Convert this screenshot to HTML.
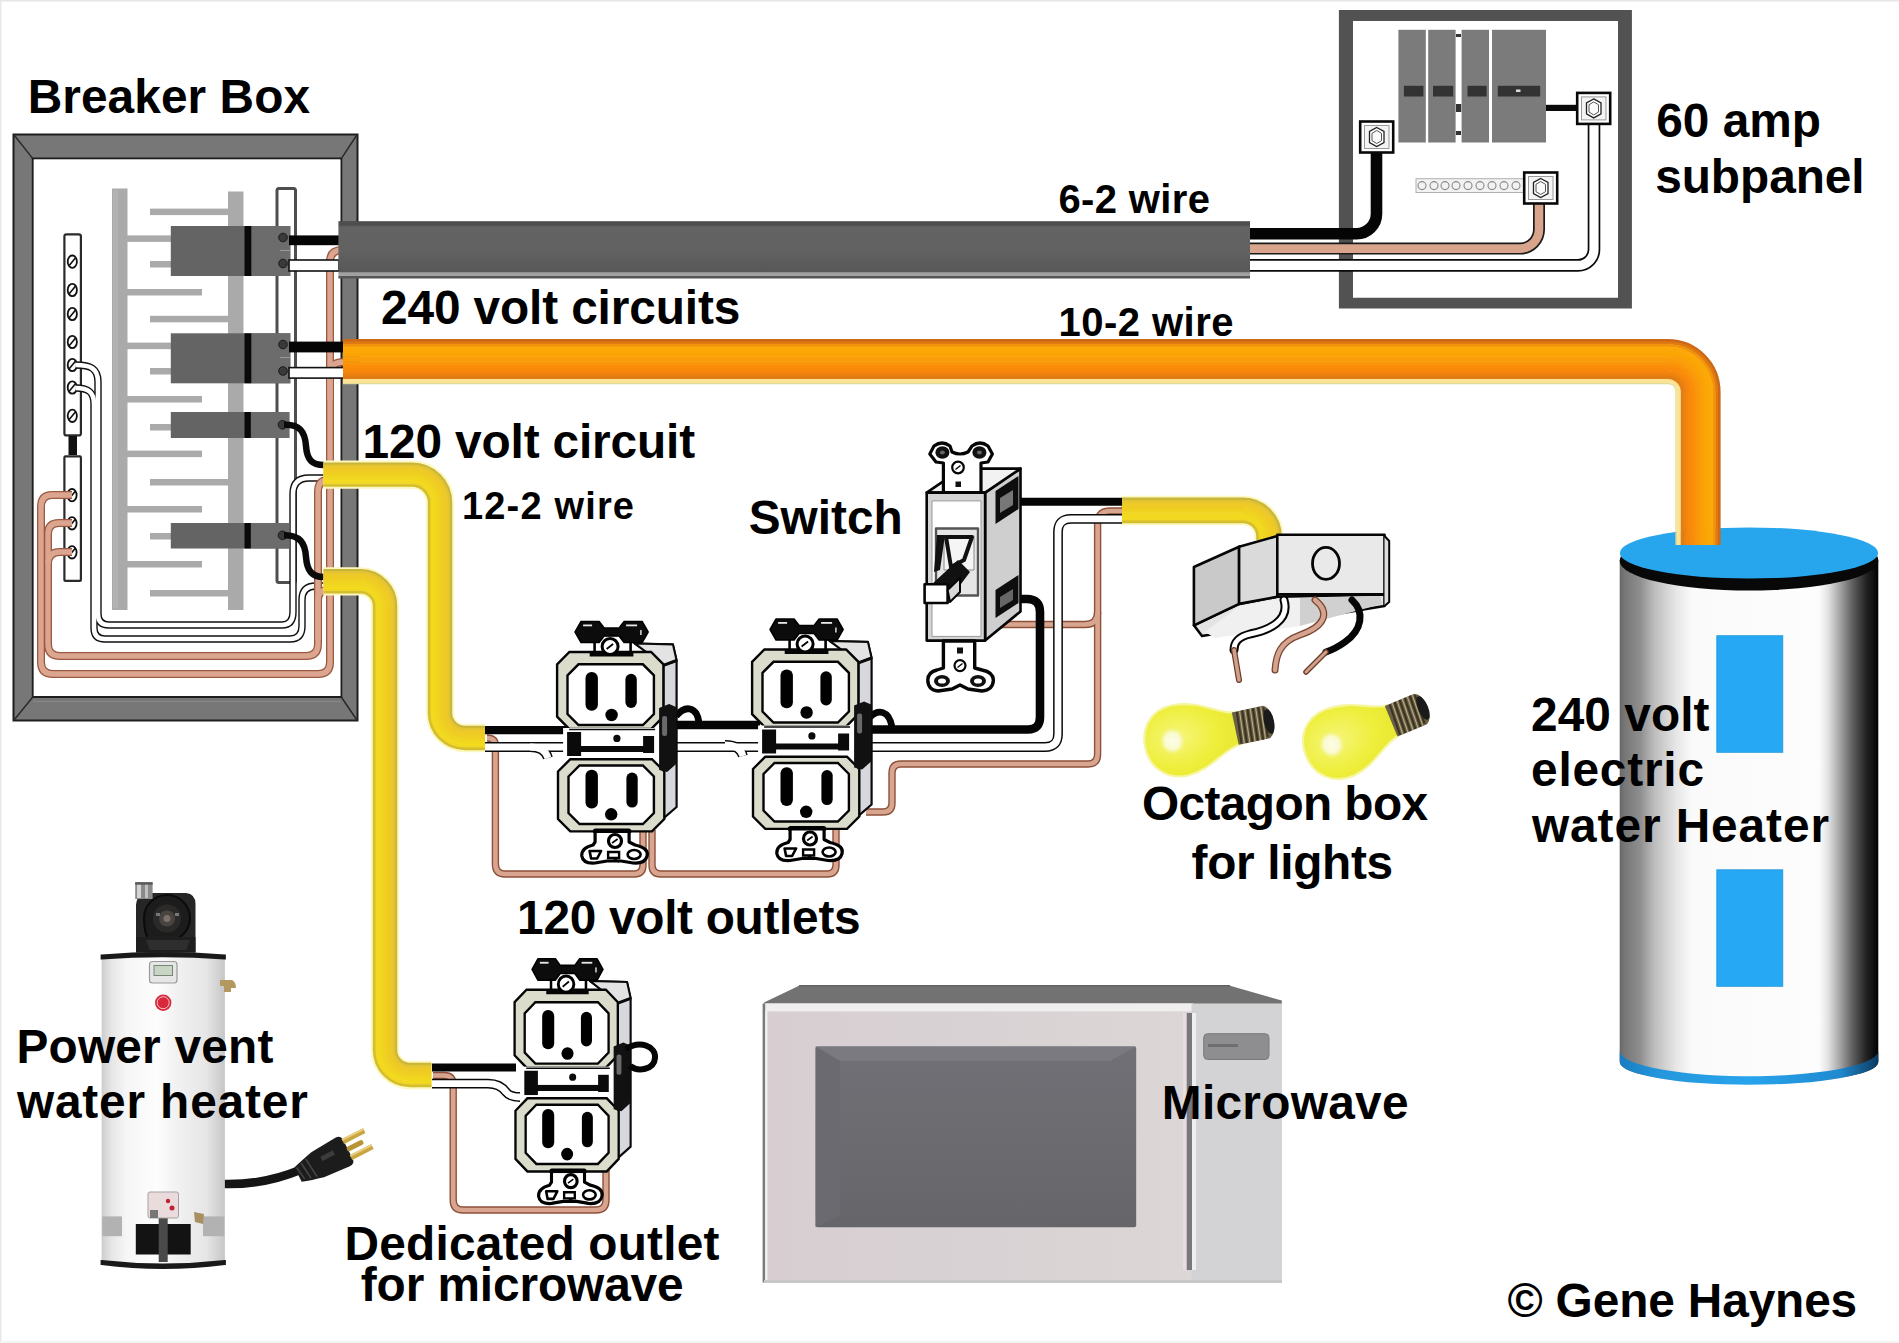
<!DOCTYPE html>
<html><head><meta charset="utf-8"><title>Wiring diagram</title>
<style>
html,body{margin:0;padding:0;background:#fff;overflow:hidden;}
svg{display:block;}
text{font-family:"Liberation Sans",sans-serif;font-weight:bold;fill:#000;}
</style></head><body>
<svg width="1899" height="1343" viewBox="0 0 1899 1343">
<defs>
<linearGradient id="orgH" x1="0" y1="0" x2="0" y2="1">
<stop offset="0" stop-color="#e06400"/><stop offset="0.07" stop-color="#f38a00"/><stop offset="0.3" stop-color="#ffa600"/><stop offset="0.55" stop-color="#fd9c00"/><stop offset="0.85" stop-color="#f98400"/><stop offset="1" stop-color="#f07400"/>
</linearGradient>
<linearGradient id="orgV" x1="0" y1="0" x2="1" y2="0">
<stop offset="0" stop-color="#fff5c0"/><stop offset="0.1" stop-color="#fff0a0"/><stop offset="0.14" stop-color="#f58200"/><stop offset="0.6" stop-color="#fb9600"/><stop offset="0.85" stop-color="#ffa800"/><stop offset="1" stop-color="#e46c00"/>
</linearGradient>
<linearGradient id="grayCab" x1="0" y1="0" x2="0" y2="1">
<stop offset="0" stop-color="#4c4c4c"/><stop offset="0.07" stop-color="#4f4f4f"/><stop offset="0.1" stop-color="#636363"/><stop offset="0.55" stop-color="#616161"/><stop offset="0.75" stop-color="#5b5b5b"/><stop offset="0.88" stop-color="#585858"/><stop offset="0.9" stop-color="#a0a0a0"/><stop offset="0.95" stop-color="#a2a2a2"/><stop offset="0.965" stop-color="#565656"/><stop offset="1" stop-color="#555"/>
</linearGradient>
<linearGradient id="cyl" x1="0" y1="0" x2="1" y2="0">
<stop offset="0" stop-color="#555"/><stop offset="0.08" stop-color="#9a9a9a"/><stop offset="0.25" stop-color="#f4f4f4"/><stop offset="0.35" stop-color="#fff"/><stop offset="0.72" stop-color="#fff"/><stop offset="0.85" stop-color="#cfcfcf"/><stop offset="0.95" stop-color="#444"/><stop offset="1" stop-color="#111"/>
</linearGradient>
<linearGradient id="orgV2" x1="0" y1="0" x2="1" y2="0">
<stop offset="0" stop-color="#f07400"/><stop offset="0.3" stop-color="#f48200"/><stop offset="0.6" stop-color="#fb9600"/><stop offset="0.82" stop-color="#ffa600"/><stop offset="0.95" stop-color="#f08400"/><stop offset="1" stop-color="#dc6400"/>
</linearGradient>
<linearGradient id="cyl2" x1="1619.7" y1="0" x2="1878.3" y2="0" gradientUnits="userSpaceOnUse">
<stop offset="0" stop-color="#686868"/><stop offset="0.02" stop-color="#777"/><stop offset="0.079" stop-color="#8e8e8e"/><stop offset="0.133" stop-color="#bcbcbc"/><stop offset="0.218" stop-color="#e6e6e6"/><stop offset="0.28" stop-color="#fafafa"/><stop offset="0.771" stop-color="#fdfdfd"/><stop offset="0.806" stop-color="#e2e2e2"/><stop offset="0.852" stop-color="#a4a4a4"/><stop offset="0.898" stop-color="#626262"/><stop offset="0.952" stop-color="#242424"/><stop offset="0.987" stop-color="#0a0a0a"/><stop offset="1" stop-color="#000"/>
</linearGradient>
<linearGradient id="blueBand" x1="1619.7" y1="0" x2="1878.3" y2="0" gradientUnits="userSpaceOnUse">
<stop offset="0" stop-color="#1a7cc0"/><stop offset="0.15" stop-color="#2596dc"/><stop offset="0.5" stop-color="#28a4ec"/><stop offset="0.85" stop-color="#1f8ad0"/><stop offset="1" stop-color="#0b3a60"/>
</linearGradient>
<g id="outlet">
<!-- body side & top -->
<path d="M77.8,-8.5 L115.8,-7.6 L119.5,8.5 L119.5,155 L106.3,166.3 L106.3,13.3 L89.2,0 Z" fill="#d6d8de" stroke="#0a0a0a" stroke-width="2.2" stroke-linejoin="round"/>
<path d="M77.8,-8.5 L115.8,-7.6 L119.5,8.5 L106.3,13.3 L89.2,0 Z" fill="#e3e3e3" stroke="#0a0a0a" stroke-width="2"/>
<path d="M106.3,13.3 L119.5,8.5" stroke="#0a0a0a" stroke-width="3"/>
<!-- top ear -->
<path d="M37.5,-17 H73.5 V1 H37.5 Z" fill="#fff" stroke="#000" stroke-width="2.6"/>
<path d="M24,-30.5 H42 L47,-24 H62 L67,-30.5 H85 L91,-20 L85,-9.5 H67 L62,-16 H47 L42,-9.5 H24 L18,-20 Z" fill="#0c0c0c" stroke="#000" stroke-width="1.6" stroke-linejoin="round"/>
<rect x="26" y="-27.5" width="9" height="1.8" fill="#e8e8e8"/>
<rect x="69" y="-27.5" width="11" height="1.8" fill="#e8e8e8"/>
<rect x="83" y="-22" width="1.6" height="5" fill="#d0d0d0"/>
<!-- upper face -->
<path d="M0,12.3 L12.3,0 H94.0 L106.3,12.3 V64.7 L94.0,77 H12.3 L0,64.7 Z" fill="#dcdccd" stroke="#050505" stroke-width="2.4"/>
<path d="M10.4,23.3 L21.4,12.3 H85.8 L96.8,23.3 V62 L85.8,73 H21.4 L10.4,62 Z" fill="#fff" stroke="#050505" stroke-width="2.4"/>
<rect x="32.6" y="-0.5" width="43.7" height="5" fill="#050505"/>
<circle cx="53" cy="-5.5" r="8" fill="#fff" stroke="#000" stroke-width="3"/>
<path d="M49.5,-3 L56,-8" stroke="#000" stroke-width="1.8"/>
<rect x="28.4" y="20" width="12.4" height="38.8" rx="6" fill="#000"/>
<rect x="68.3" y="21.8" width="11.4" height="34.2" rx="5.7" fill="#000"/>
<circle cx="54.5" cy="63" r="6.2" fill="#000"/>
<!-- strap -->
<rect x="6" y="76" width="98" height="32" fill="#fff"/>
<path d="M10,80 H24 V104 H10 Z" fill="#0a0a0a"/>
<rect x="20" y="94" width="70" height="6" fill="#0a0a0a"/>
<path d="M86,84 H97 V101 H86 Z" fill="#0a0a0a"/>
<circle cx="59.8" cy="86.4" r="3.6" fill="#0a0a0a"/>
<path d="M12,77.5 H98" stroke="#0a0a0a" stroke-width="1.5"/>
<!-- lower face -->
<path d="M0.9,119.5 L13.200000000000001,107.2 H94.9 L107.2,119.5 V167.1 L94.9,179.4 H13.200000000000001 L0.9,167.1 Z" fill="#dcdccd" stroke="#050505" stroke-width="2.4"/>
<path d="M11.4,124.5 L22.4,113.5 H85.8 L96.8,124.5 V161 L85.8,172 H22.4 L11.4,161 Z" fill="#fff" stroke="#050505" stroke-width="2.4"/>
<rect x="28.4" y="117.7" width="12.4" height="38.9" rx="6" fill="#000"/>
<rect x="69.3" y="120.5" width="11.3" height="35.1" rx="5.6" fill="#000"/>
<circle cx="54.1" cy="162.3" r="6.2" fill="#000"/>
<!-- side terminals -->
<path d="M102,56 L112,52 L119,55 V112 L110,120 L102,118 Z" fill="#111"/>
<rect x="105" y="64" width="5" height="20" rx="2" fill="#6a6a6a"/>
<!-- bottom ear -->
<path d="M38,178 H72 V190 L78,193 Q92,196 90,204 Q88,212 76,211 L64,209 H50 L38,211 Q26,212 24.7,204 Q24,196 36,193 L38,190 Z" fill="#fff" stroke="#000" stroke-width="3.2" stroke-linejoin="round"/>
<rect x="36" y="177.5" width="38" height="3.5" fill="#000"/>
<circle cx="57.9" cy="189" r="6.5" fill="#fff" stroke="#000" stroke-width="3.2"/>
<path d="M55,191 L60.5,187" stroke="#000" stroke-width="1.6"/>
<path d="M32.5,199 H44 L40,206.5 H34 Z" fill="none" stroke="#000" stroke-width="2.6" stroke-linejoin="round"/>
<ellipse cx="77" cy="202.5" rx="6.5" ry="4.5" fill="none" stroke="#000" stroke-width="2.6"/>
<path d="M51,200 H62 V206 H51 Z" fill="none" stroke="#000" stroke-width="2.4"/>
<path d="M56,206 L62,210" stroke="#000" stroke-width="2"/>
</g>
<g id="bulb">
<path d="M60,-16 C42,-18 30,-35 0,-36 C-22,-36 -35,-20 -35,0 C-35,22 -19,36.5 2,36 C26,35 40,18 60,16 Z" fill="url(#bulbG)" stroke="#f6f6a0" stroke-width="2.2"/>
<ellipse cx="-7" cy="-1" rx="13" ry="14" fill="url(#bulbHL)"/>
<path d="M57,-16.5 H89 Q96,-13 96,0 Q96,13 89,16.5 H57 Z" fill="#6a6046"/>
<g stroke="#3a3222" stroke-width="2"><path d="M62,-16 L60,16 M67.5,-16.5 L65.5,16.5 M73,-16.5 L71,16.5 M78.5,-16.5 L76.5,16.5 M84,-16.5 L82,16.5 M89,-15 L87,15"/></g>
<g stroke="#b8ac84" stroke-width="1.1"><path d="M64.8,-16 L62.8,16 M70.3,-16.5 L68.3,16.5 M75.8,-16.5 L73.8,16.5 M81.3,-16.5 L79.3,16.5 M86.5,-16 L84.5,16"/></g>
<ellipse cx="91.5" cy="0" rx="5" ry="12.5" fill="#1a1a1a"/>
</g>
<radialGradient id="bulbG" cx="0.35" cy="0.45" r="0.7">
<stop offset="0" stop-color="#f6f67a"/><stop offset="0.6" stop-color="#eeee3c"/><stop offset="1" stop-color="#e8e830"/>
</radialGradient>
<linearGradient id="mwTop" x1="0" y1="0" x2="0" y2="1">
<stop offset="0" stop-color="#5c5c5c"/><stop offset="1" stop-color="#7a7a7a"/>
</linearGradient>
<linearGradient id="mwWin" x1="0" y1="0" x2="0" y2="1">
<stop offset="0" stop-color="#707076"/><stop offset="1" stop-color="#66666a"/>
</linearGradient>
<linearGradient id="pvBody" x1="101.6" y1="0" x2="224.9" y2="0" gradientUnits="userSpaceOnUse">
<stop offset="0" stop-color="#cdcdcd"/><stop offset="0.08" stop-color="#e6e6e6"/><stop offset="0.2" stop-color="#f6f6f6"/><stop offset="0.45" stop-color="#fdfdfd"/><stop offset="0.6" stop-color="#f2f2f2"/><stop offset="0.85" stop-color="#e6e6e6"/><stop offset="1" stop-color="#c6c6c6"/>
</linearGradient>
<linearGradient id="mwDoor" x1="764" y1="0" x2="1192" y2="0" gradientUnits="userSpaceOnUse">
<stop offset="0" stop-color="#d8ced2"/><stop offset="0.5" stop-color="#d8d2d4"/><stop offset="1" stop-color="#dcd6d6"/>
</linearGradient>
<radialGradient id="bulbHL" cx="0.5" cy="0.5" r="0.5">
<stop offset="0" stop-color="#fdfde8"/><stop offset="0.6" stop-color="#fafad0"/><stop offset="1" stop-color="#f4f490" stop-opacity="0"/>
</radialGradient>
</defs>


<rect x="0" y="0" width="1899" height="1.5" fill="#e6e6e6"/>
<rect x="0" y="0" width="1.5" height="1343" fill="#e8e8e8"/>
<rect x="0" y="1341" width="1899" height="2" fill="#f3f3f3"/>
<!-- ============ BREAKER BOX ============ -->
<g id="breakerbox">
<!-- frame -->
<path d="M13.5,134.5 H357.5 V720.5 H13.5 Z M32.8,158.6 V697 H341.3 V158.6 Z" fill="#777777" fill-rule="evenodd" stroke="#1e1e1e" stroke-width="2"/>
<path d="M14.5,135.5 L32.8,158.6 M356.5,135.5 L341.3,158.6 M14.5,719.5 L32.8,697 M356.5,719.5 L341.3,697" stroke="#2a2a2a" stroke-width="1.5"/>
<path d="M33,701.5 H341" stroke="#888" stroke-width="1"/>
<rect x="33.8" y="159.6" width="306.5" height="536.4" fill="#fff"/>
<!-- bus bars -->
<g fill="#aaaaaa">
<rect x="112" y="188.5" width="15.5" height="421.5"/>
<rect x="228" y="191.5" width="15.5" height="418.5"/>
<rect x="150" y="208.6" width="79" height="6.5"/>
<rect x="127" y="235.4" width="75" height="6.5"/>
<rect x="150" y="261.0" width="79" height="6.5"/>
<rect x="127" y="289.0" width="75" height="6.5"/>
<rect x="150" y="315.8" width="79" height="6.5"/>
<rect x="127" y="342.6" width="75" height="6.5"/>
<rect x="150" y="368.0" width="79" height="6.5"/>
<rect x="127" y="396.0" width="75" height="6.5"/>
<rect x="150" y="424.0" width="79" height="6.5"/>
<rect x="127" y="450.6" width="75" height="6.5"/>
<rect x="150" y="479.0" width="79" height="6.5"/>
<rect x="127" y="506.0" width="75" height="6.5"/>
<rect x="150" y="533.0" width="79" height="6.5"/>
<rect x="127" y="561.0" width="75" height="6.5"/>
<rect x="150" y="590.0" width="79" height="6.5"/>
</g>
<rect x="113" y="190" width="5" height="418" fill="#b2b2b2"/>

<!-- right narrow box -->
<rect x="277" y="188.5" width="18.5" height="394" rx="2" fill="#fff" stroke="#4e4e4e" stroke-width="3"/>
<!-- neutral bars -->
<rect x="64.4" y="234.4" width="16.5" height="201" rx="2" fill="#fff" stroke="#2a2a2a" stroke-width="2.2"/>
<rect x="68.5" y="436" width="8.5" height="19" fill="#111"/>
<rect x="64.4" y="456.4" width="16.5" height="124.5" rx="1" fill="#fff" stroke="#2a2a2a" stroke-width="2.2"/>
<g fill="#fff" stroke="#111" stroke-width="1.8">
<ellipse cx="72.3" cy="261.7" rx="4.6" ry="6.2"/>
<ellipse cx="72.3" cy="290" rx="4.6" ry="6.2"/>
<ellipse cx="72.3" cy="314" rx="4.6" ry="6.2"/>
<ellipse cx="72.3" cy="342" rx="4.6" ry="6.2"/>
<ellipse cx="72.3" cy="365" rx="4.6" ry="6.2"/>
<ellipse cx="72.3" cy="387.5" rx="4.6" ry="6.2"/>
<ellipse cx="72.3" cy="415.8" rx="4.6" ry="6.2"/>
<ellipse cx="72" cy="495.2" rx="4.6" ry="6.2"/>
<ellipse cx="72" cy="523.3" rx="4.6" ry="6.2"/>
<ellipse cx="72" cy="552.3" rx="4.6" ry="6.2"/>
</g>
<g stroke="#111" stroke-width="1.6">
<path d="M69,265.7 L75.6,257.7 M69,294 L75.6,286 M69,318 L75.6,310 M69,346 L75.6,338 M69,369 L75.6,361 M69,391.5 L75.6,383.5 M69,419.8 L75.6,411.8 M68.7,499.2 L75.3,491.2 M68.7,527.3 L75.3,519.3 M68.7,556.3 L75.3,548.3"/>
</g>
<!-- white neutral wires in box -->
<g fill="none" stroke-linecap="butt">
<g stroke="#111" stroke-width="7.4">
<path d="M76,365 C90,365 98,368 98,382 V614 Q98,625 109,625 H282 Q293,625 293,612 V494 Q293,478 309,478 H326"/>
<path d="M76,388 C88,388 94,392 94,404 V628 Q94,639 105,639 H290 Q302,639 302,626 V600 Q302,586 316,586 H326"/>
</g>
<g stroke="#fff" stroke-width="4.6">
<path d="M76,365 C90,365 98,368 98,382 V614 Q98,625 109,625 H282 Q293,625 293,612 V494 Q293,478 309,478 H326"/>
<path d="M76,388 C88,388 94,392 94,404 V628 Q94,639 105,639 H290 Q302,639 302,626 V600 Q302,586 316,586 H326"/>
</g>
</g>
<!-- copper wires in box -->
<g fill="none">
<g stroke="#9a5a42" stroke-width="8">
<path d="M72,495 H52 Q41,495 41,507 V662 Q41,674 53,674 H318 Q330,674 330,662 V262 Q330,250 342,250"/>
<path d="M330,400 V374 Q330,362 344,362"/>
<path d="M72,523 H59 Q48,523 48,534 V644 Q48,656 60,656 H306 Q318,656 318,644 V492 Q318,480 328,480"/>
<path d="M72,552 H60 Q48,552 48,564"/>
<path d="M328,590 Q318,590 318,600 V640"/>
</g>
<g stroke="#dba590" stroke-width="5.4">
<path d="M72,495 H52 Q41,495 41,507 V662 Q41,674 53,674 H318 Q330,674 330,662 V262 Q330,250 342,250"/>
<path d="M330,400 V374 Q330,362 344,362"/>
<path d="M72,523 H59 Q48,523 48,534 V644 Q48,656 60,656 H306 Q318,656 318,644 V492 Q318,480 328,480"/>
<path d="M72,552 H60 Q48,552 48,564"/>
<path d="M328,590 Q318,590 318,600 V640"/>
</g>
</g>
<!-- breakers -->
<g fill="#646464">
<rect x="170.8" y="226" width="119.5" height="50"/>
<rect x="170.8" y="333.3" width="119.5" height="50"/>
<rect x="170.8" y="412" width="118.6" height="26"/>
<rect x="170.8" y="523" width="118.6" height="25.5"/>
</g>
<g fill="#6c6c6c">
<rect x="251.3" y="226" width="39" height="50"/>
<rect x="251.3" y="333.3" width="39" height="50"/>
<rect x="251.3" y="412" width="38" height="26"/>
<rect x="251.3" y="523" width="38" height="25.5"/>
</g>
<g fill="#0a0a0a">
<rect x="244.5" y="226" width="6.8" height="50"/>
<rect x="244.5" y="333.3" width="6.8" height="50"/>
<rect x="244.5" y="412" width="6.3" height="26"/>
<rect x="244.5" y="523" width="6.3" height="25.5"/>
</g>
<g fill="#3a3a3a" stroke="#1a1a1a" stroke-width="1">
<circle cx="283" cy="237.5" r="4.3"/><circle cx="283" cy="263.5" r="4.3"/>
<circle cx="283" cy="344.5" r="4.3"/><circle cx="283" cy="371" r="4.3"/>
<circle cx="282.5" cy="424.8" r="4.3"/><circle cx="282.5" cy="535.3" r="4.3"/>
</g>
<g stroke="#999" stroke-width="1"><path d="M280,250.5 H290 M280,357.5 H290"/></g>
<!-- 240v wires -->
<rect x="289" y="235.4" width="50" height="9.8" fill="#050505"/>
<rect x="289" y="341.6" width="55" height="10.8" fill="#050505"/>
<rect x="289" y="260" width="50" height="11" fill="#fff" stroke="#111" stroke-width="1.6"/>
<rect x="289" y="367.6" width="55" height="10.5" fill="#fff" stroke="#111" stroke-width="1.6"/>
<!-- 120v black wires -->
<g fill="none" stroke="#0a0a0a" stroke-width="6.5">
<path d="M284,424.8 C300,424 305,432 306,446 C307,460 312,465 324,465"/>
<path d="M284,535.3 C300,535 305,543 306,557 C307,571 312,577 324,577"/>
</g>
</g>



<!-- ============ ELECTRIC WATER HEATER ============ -->
<g id="eheater">
<path d="M1619.7,560 A129.2,30 0 0 1 1878.3,560 V1062 A129.2,22.7 0 0 1 1619.7,1062 Z" fill="url(#cyl2)"/>
<path d="M1619.7,1049.3 A129.2,25.5 0 0 0 1878.3,1052 V1062 A129.2,22.7 0 0 1 1619.7,1062 Z" fill="url(#blueBand)"/>
<ellipse cx="1749" cy="561" rx="129.3" ry="29.5" fill="#080808"/>
<ellipse cx="1749" cy="553" rx="129.2" ry="25.6" fill="#27a6ee"/>
<rect x="1716.8" y="635.7" width="66" height="116.6" fill="#26a8f4" stroke="#2196d8" stroke-width="0.8"/>
<rect x="1716.8" y="869.8" width="66" height="116.5" fill="#26a8f4" stroke="#2196d8" stroke-width="0.8"/>
</g>

<!-- ============ CABLES ============ -->
<g id="cables">
<!-- gray 6-2 cable -->
<rect x="338.4" y="221.2" width="911.6" height="57.3" fill="url(#grayCab)"/>
<!-- orange 10-2 cable -->
<path d="M343,383.6 H1668 Q1676,383.6 1676,392 V545" fill="none" stroke="#dcd898" stroke-width="1.2"/>
<path d="M343,380.9 H1668 Q1678.6,380.9 1678.6,392 V545" fill="none" stroke="#fde396" stroke-width="4.6"/>
<g fill="none">
<path d="M343,340.62 H1667.7 A51.38,51.38 0 0 1 1719.08,392 V545" stroke="#cd6816" stroke-width="3.05"/>
<path d="M343,343.07 H1667.7 A48.92,48.92 0 0 1 1716.62,392 V545" stroke="#df7912" stroke-width="3.05"/>
<path d="M343,345.52 H1667.7 A46.48,46.48 0 0 1 1714.17,392 V545" stroke="#f1930c" stroke-width="3.05"/>
<path d="M343,347.98 H1667.7 A44.02,44.02 0 0 1 1711.73,392 V545" stroke="#fca808" stroke-width="3.05"/>
<path d="M343,350.43 H1667.7 A41.58,41.58 0 0 1 1709.28,392 V545" stroke="#fba706" stroke-width="3.05"/>
<path d="M343,352.88 H1667.7 A39.12,39.12 0 0 1 1706.83,392 V545" stroke="#fba604" stroke-width="3.05"/>
<path d="M343,355.32 H1667.7 A36.67,36.67 0 0 1 1704.38,392 V545" stroke="#fba305" stroke-width="3.05"/>
<path d="M343,357.77 H1667.7 A34.23,34.23 0 0 1 1701.92,392 V545" stroke="#fa9f06" stroke-width="3.05"/>
<path d="M343,360.23 H1667.7 A31.77,31.77 0 0 1 1699.48,392 V545" stroke="#fa9b08" stroke-width="3.05"/>
<path d="M343,362.68 H1667.7 A29.32,29.32 0 0 1 1697.03,392 V545" stroke="#fa9609" stroke-width="3.05"/>
<path d="M343,365.12 H1667.7 A26.88,26.88 0 0 1 1694.58,392 V545" stroke="#fa9109" stroke-width="3.05"/>
<path d="M343,367.57 H1667.7 A24.43,24.43 0 0 1 1692.12,392 V545" stroke="#fa8c0a" stroke-width="3.05"/>
<path d="M343,370.02 H1667.7 A21.97,21.97 0 0 1 1689.67,392 V545" stroke="#f8890b" stroke-width="3.05"/>
<path d="M343,372.48 H1667.7 A19.52,19.52 0 0 1 1687.23,392 V545" stroke="#f5850c" stroke-width="3.05"/>
<path d="M343,374.93 H1667.7 A17.07,17.07 0 0 1 1684.78,392 V545" stroke="#eb810f" stroke-width="3.05"/>
<path d="M343,377.38 H1667.7 A14.62,14.62 0 0 1 1682.33,392 V545" stroke="#e17d13" stroke-width="3.05"/>
</g>
<!-- yellow cables -->
<g fill="none">
<path d="M323.4,474.60 H412 A28.00,28.00 0 0 1 440.00,502.6 V713 A25.00,25.00 0 0 0 465,738.00 H485" stroke="#fdf8c0" stroke-width="28.3"/>
<path d="M323.4,463.69 H412 A38.91,38.91 0 0 1 450.91,502.6 V713 A14.09,14.09 0 0 0 465,727.09 H485" stroke="#c9b539" stroke-width="2.58"/>
<path d="M323.4,465.68 H412 A36.92,36.92 0 0 1 448.93,502.6 V713 A16.07,16.07 0 0 0 465,729.08 H485" stroke="#e0c334" stroke-width="2.58"/>
<path d="M323.4,467.66 H412 A34.94,34.94 0 0 1 446.94,502.6 V713 A18.06,18.06 0 0 0 465,731.06 H485" stroke="#ecc82a" stroke-width="2.58"/>
<path d="M323.4,469.64 H412 A32.96,32.96 0 0 1 444.96,502.6 V713 A20.04,20.04 0 0 0 465,733.04 H485" stroke="#eeca26" stroke-width="2.58"/>
<path d="M323.4,471.62 H412 A30.98,30.98 0 0 1 442.98,502.6 V713 A22.02,22.02 0 0 0 465,735.02 H485" stroke="#f0cc23" stroke-width="2.58"/>
<path d="M323.4,473.61 H412 A28.99,28.99 0 0 1 440.99,502.6 V713 A24.01,24.01 0 0 0 465,737.01 H485" stroke="#f0ce21" stroke-width="2.58"/>
<path d="M323.4,475.59 H412 A27.01,27.01 0 0 1 439.01,502.6 V713 A25.99,25.99 0 0 0 465,738.99 H485" stroke="#f0d221" stroke-width="2.58"/>
<path d="M323.4,477.58 H412 A25.02,25.02 0 0 1 437.02,502.6 V713 A27.98,27.98 0 0 0 465,740.98 H485" stroke="#f0d520" stroke-width="2.58"/>
<path d="M323.4,479.56 H412 A23.04,23.04 0 0 1 435.04,502.6 V713 A29.96,29.96 0 0 0 465,742.96 H485" stroke="#f2d71e" stroke-width="2.58"/>
<path d="M323.4,481.54 H412 A21.06,21.06 0 0 1 433.06,502.6 V713 A31.94,31.94 0 0 0 465,744.94 H485" stroke="#f4da1c" stroke-width="2.58"/>
<path d="M323.4,483.53 H412 A19.08,19.08 0 0 1 431.07,502.6 V713 A33.92,33.92 0 0 0 465,746.92 H485" stroke="#f0d625" stroke-width="2.58"/>
<path d="M323.4,485.51 H412 A17.09,17.09 0 0 1 429.09,502.6 V713 A35.91,35.91 0 0 0 465,748.91 H485" stroke="#d4be2e" stroke-width="2.58"/>
<path d="M323.4,581.30 H361 A24.50,24.50 0 0 1 385.00,605.8 V1050 A25.00,25.00 0 0 0 410,1075.00 H431.5" stroke="#fdf8c0" stroke-width="28.3"/>
<path d="M323.4,570.39 H361 A35.41,35.41 0 0 1 395.91,605.8 V1050 A14.09,14.09 0 0 0 410,1064.09 H431.5" stroke="#c9b539" stroke-width="2.58"/>
<path d="M323.4,572.38 H361 A33.42,33.42 0 0 1 393.93,605.8 V1050 A16.07,16.07 0 0 0 410,1066.08 H431.5" stroke="#e0c334" stroke-width="2.58"/>
<path d="M323.4,574.36 H361 A31.44,31.44 0 0 1 391.94,605.8 V1050 A18.06,18.06 0 0 0 410,1068.06 H431.5" stroke="#ecc82a" stroke-width="2.58"/>
<path d="M323.4,576.34 H361 A29.46,29.46 0 0 1 389.96,605.8 V1050 A20.04,20.04 0 0 0 410,1070.04 H431.5" stroke="#eeca26" stroke-width="2.58"/>
<path d="M323.4,578.32 H361 A27.48,27.48 0 0 1 387.98,605.8 V1050 A22.02,22.02 0 0 0 410,1072.03 H431.5" stroke="#f0cc23" stroke-width="2.58"/>
<path d="M323.4,580.31 H361 A25.49,25.49 0 0 1 385.99,605.8 V1050 A24.01,24.01 0 0 0 410,1074.01 H431.5" stroke="#f0ce21" stroke-width="2.58"/>
<path d="M323.4,582.29 H361 A23.51,23.51 0 0 1 384.01,605.8 V1050 A25.99,25.99 0 0 0 410,1075.99 H431.5" stroke="#f0d221" stroke-width="2.58"/>
<path d="M323.4,584.27 H361 A21.52,21.52 0 0 1 382.02,605.8 V1050 A27.98,27.98 0 0 0 410,1077.97 H431.5" stroke="#f0d520" stroke-width="2.58"/>
<path d="M323.4,586.26 H361 A19.54,19.54 0 0 1 380.04,605.8 V1050 A29.96,29.96 0 0 0 410,1079.96 H431.5" stroke="#f2d71e" stroke-width="2.58"/>
<path d="M323.4,588.24 H361 A17.56,17.56 0 0 1 378.06,605.8 V1050 A31.94,31.94 0 0 0 410,1081.94 H431.5" stroke="#f4da1c" stroke-width="2.58"/>
<path d="M323.4,590.22 H361 A15.58,15.58 0 0 1 376.07,605.8 V1050 A33.92,33.92 0 0 0 410,1083.92 H431.5" stroke="#f0d625" stroke-width="2.58"/>
<path d="M323.4,592.21 H361 A13.59,13.59 0 0 1 374.09,605.8 V1050 A35.91,35.91 0 0 0 410,1085.91 H431.5" stroke="#d4be2e" stroke-width="2.58"/>
<path d="M1121.5,510.40 H1243 A26.00,26.00 0 0 1 1269.00,536.4 V540" stroke="#fdf8c0" stroke-width="29.5"/>
<path d="M1121.5,498.94 H1243 A37.46,37.46 0 0 1 1280.46,536.4 V540" stroke="#c9b539" stroke-width="2.68"/>
<path d="M1121.5,501.02 H1243 A35.38,35.38 0 0 1 1278.38,536.4 V540" stroke="#e0c334" stroke-width="2.68"/>
<path d="M1121.5,503.11 H1243 A33.29,33.29 0 0 1 1276.29,536.4 V540" stroke="#ecc82a" stroke-width="2.68"/>
<path d="M1121.5,505.19 H1243 A31.21,31.21 0 0 1 1274.21,536.4 V540" stroke="#eeca26" stroke-width="2.68"/>
<path d="M1121.5,507.27 H1243 A29.12,29.12 0 0 1 1272.12,536.4 V540" stroke="#f0cc23" stroke-width="2.68"/>
<path d="M1121.5,509.36 H1243 A27.04,27.04 0 0 1 1270.04,536.4 V540" stroke="#f0ce21" stroke-width="2.68"/>
<path d="M1121.5,511.44 H1243 A24.96,24.96 0 0 1 1267.96,536.4 V540" stroke="#f0d221" stroke-width="2.68"/>
<path d="M1121.5,513.52 H1243 A22.88,22.88 0 0 1 1265.88,536.4 V540" stroke="#f0d520" stroke-width="2.68"/>
<path d="M1121.5,515.61 H1243 A20.79,20.79 0 0 1 1263.79,536.4 V540" stroke="#f2d71e" stroke-width="2.68"/>
<path d="M1121.5,517.69 H1243 A18.71,18.71 0 0 1 1261.71,536.4 V540" stroke="#f4da1c" stroke-width="2.68"/>
<path d="M1121.5,519.77 H1243 A16.62,16.62 0 0 1 1259.62,536.4 V540" stroke="#f0d625" stroke-width="2.68"/>
<path d="M1121.5,521.86 H1243 A14.54,14.54 0 0 1 1257.54,536.4 V540" stroke="#d4be2e" stroke-width="2.68"/>
</g>
</g>


<!-- ============ SUBPANEL ============ -->
<g id="subpanel">
<path d="M1338.9,10 H1631.9 V308.5 H1338.9 Z M1353,21 V297.8 H1618 V21 Z" fill="#525252" fill-rule="evenodd"/>
<!-- breakers -->
<g fill="#7b7b7b">
<rect x="1398.4" y="29.8" width="27.4" height="112.7"/>
<rect x="1428.2" y="29.8" width="27.4" height="112.7"/>
<rect x="1461.6" y="29.8" width="27.4" height="112.7"/>
<rect x="1492" y="29.8" width="54" height="112.7"/>
</g>
<g fill="#333">
<rect x="1403.9" y="85.8" width="19.5" height="10.7"/>
<rect x="1433" y="85.8" width="20.2" height="10.7"/>
<rect x="1467.5" y="85.8" width="19.1" height="10.7"/>
<rect x="1497.8" y="85.8" width="42.4" height="10.7"/>
<rect x="1456" y="34" width="5" height="3"/>
<rect x="1456" y="104" width="5.2" height="8"/>
<rect x="1456" y="131" width="5" height="4"/>
</g>
<rect x="1516" y="89.5" width="4.5" height="2.5" fill="#ddd"/>
<!-- wires -->
<rect x="1546" y="104.8" width="31" height="6.2" fill="#0a0a0a"/>
<path d="M1250,233.7 H1356.5 A20,20 0 0 0 1376.5,213.7 V150" fill="none" stroke="#050505" stroke-width="11.6"/>
<path d="M1250,248.6 H1520 A19,19 0 0 0 1539,229.6 V200" fill="none" stroke="#1a1a1a" stroke-width="12"/>
<path d="M1250,248.6 H1520 A19,19 0 0 0 1539,229.6 V200" fill="none" stroke="#d9a48c" stroke-width="8.6"/>
<path d="M1250,265.4 H1578 A16,16 0 0 0 1594,249.4 V120" fill="none" stroke="#0a0a0a" stroke-width="12.6"/>
<path d="M1250,265.4 H1578 A16,16 0 0 0 1594,249.4 V120" fill="none" stroke="#fff" stroke-width="9.2"/>
<!-- neutral bar -->
<rect x="1416" y="178.7" width="107.5" height="13.8" fill="#f2f2f2" stroke="#b0b0b0" stroke-width="1"/>
<g fill="none" stroke="#8a8a8a" stroke-width="1.1">
<circle cx="1422" cy="185.6" r="4"/><circle cx="1434" cy="185.6" r="4"/><circle cx="1445" cy="185.6" r="4"/><circle cx="1456" cy="185.6" r="4"/><circle cx="1468" cy="185.6" r="4"/><circle cx="1480" cy="185.6" r="4"/><circle cx="1492" cy="185.6" r="4"/><circle cx="1504" cy="185.6" r="4"/><circle cx="1516" cy="185.6" r="4"/>
</g>
<!-- lugs -->
<g id="lug1">
<rect x="1360.2" y="121.5" width="33" height="31" fill="#fff" stroke="#080808" stroke-width="2.6"/>
<rect x="1364.5" y="125.5" width="24.5" height="23" fill="#f4f4f4" stroke="#9a9a9a" stroke-width="1"/>
<path d="M1376.7,127.5 L1384,131.5 V142.5 L1376.7,146.5 L1369.5,142.5 V131.5 Z" fill="#fff" stroke="#222" stroke-width="1.3"/>
<path d="M1376.7,130.5 L1381.5,133.3 V140.7 L1376.7,143.5 L1372,140.7 V133.3 Z" fill="#fafafa" stroke="#555" stroke-width="1"/>
</g>
<use href="#lug1" x="217" y="-28.6"/>
<use href="#lug1" x="164" y="51"/>
</g>


<!-- ============ 120V OUTLET WIRING ============ -->
<g id="outletwires" fill="none">
<!-- copper -->
<g stroke="#8e5038" stroke-width="7.4">
<path d="M487,738 Q495.4,738 495.4,746 V864 Q495.4,874 505,874 H634 Q643,874 643,865 V830"/>
<path d="M652,830 V865 Q652,874 661,874 H827 Q836,874 836,865 V830"/>
<path d="M866,812 H883 Q892,812 892,803 V773 Q892,764 901,764 H1088 Q1097.6,764 1097.6,754 V524 Q1097.6,511 1110,511 H1122"/>
<path d="M1000,624.5 H1085 Q1097.6,624.5 1097.6,612"/>
<path d="M433,1075.5 H444 Q453.2,1075.5 453.2,1085 V1200 Q453.2,1210 463,1210 H596 Q606,1210 606,1200 V1170"/>
</g>
<g stroke="#d8a590" stroke-width="4.6">
<path d="M487,738 Q495.4,738 495.4,746 V864 Q495.4,874 505,874 H634 Q643,874 643,865 V830"/>
<path d="M652,830 V865 Q652,874 661,874 H827 Q836,874 836,865 V830"/>
<path d="M866,812 H883 Q892,812 892,803 V773 Q892,764 901,764 H1088 Q1097.6,764 1097.6,754 V524 Q1097.6,511 1110,511 H1122"/>
<path d="M1000,624.5 H1085 Q1097.6,624.5 1097.6,612"/>
<path d="M433,1075.5 H444 Q453.2,1075.5 453.2,1085 V1200 Q453.2,1210 463,1210 H596 Q606,1210 606,1200 V1170"/>
</g>
<!-- white -->
<g stroke="#0a0a0a" stroke-width="9.8">
<path d="M485,747 H1045 Q1058,747 1058,734 V532 Q1058,518.8 1071,518.8 H1122"/>
<path d="M530,747 Q545,747 548,758"/>
<path d="M725,745 Q740,745 743,756"/>
<path d="M432,1083.6 H488 Q500,1083.6 506,1092 Q510,1097 520,1097"/>
</g>
<g stroke="#fff" stroke-width="6.8">
<path d="M485,747 H1045 Q1058,747 1058,734 V532 Q1058,518.8 1071,518.8 H1122"/>
<path d="M530,747 Q545,747 548,758"/>
<path d="M725,745 Q740,745 743,756"/>
<path d="M432,1083.6 H488 Q500,1083.6 506,1092 Q510,1097 520,1097"/>
</g>
<!-- black -->
<g stroke="#050505">
<path d="M485,730.2 H570" stroke-width="8.2"/>
<path d="M670,725 H760" stroke-width="8.6"/>
<path d="M866,729.5 H1028 Q1040,729.5 1040,717 V612 Q1040,599 1027,599 H1016" stroke-width="8.6"/>
<path d="M676,716 C685,705 697,706 699,723" stroke-width="6.8"/>
<path d="M870,717 C878,709 889,710 892,727" stroke-width="6.8"/>
<path d="M1020,501.7 H1122" stroke-width="8"/>
<path d="M432,1067.5 H516" stroke-width="8.2"/>
</g>
</g>
<!-- ============ OUTLETS ============ -->
<use href="#outlet" transform="translate(557.1,652)"/>
<use href="#outlet" transform="translate(752.1,649.5)"/>
<use href="#outlet" transform="translate(514.6,989.7) scale(0.971,1.013)"/>
<path d="M626,1049 C640,1040 656,1046 655,1058 C654,1070 638,1072 630,1066" fill="none" stroke="#050505" stroke-width="6"/>


<!-- ============ SWITCH ============ -->
<g id="switch" stroke-linejoin="round">
<!-- side face -->
<path d="M985.1,492.6 L1020.5,468.6 V611.4 L985.1,640.6 Z" fill="#cfcfcf" stroke="#050505" stroke-width="2.6"/>
<!-- top face -->
<path d="M926.7,492.6 L962,468.6 H1020.5 L985.1,492.6 Z" fill="#f2f2f2" stroke="#050505" stroke-width="2.6"/>
<!-- top ear -->
<path d="M934,446 Q942,440 950,446 L952,452 Q960,456 968,452 L972,446 Q980,440 988,446 L992.4,454 L988,462 L981,463 V492.6 H943.4 V463 L936,462 L929.8,454 Z" fill="#fff" stroke="#050505" stroke-width="3.2"/>
<ellipse cx="942.4" cy="452.5" rx="7" ry="6.2" fill="#111"/>
<ellipse cx="979.4" cy="452.5" rx="7" ry="6.2" fill="#111"/>
<ellipse cx="942.4" cy="452.5" rx="2.5" ry="2" fill="#666"/>
<ellipse cx="979.4" cy="452.5" rx="2.5" ry="2" fill="#666"/>
<circle cx="958" cy="467.5" r="5.8" fill="#fff" stroke="#050505" stroke-width="2.2"/>
<path d="M955.5,469.5 L960.5,465.5" stroke="#050505" stroke-width="1.4"/>
<rect x="955.5" y="481.5" width="5.5" height="5.5" fill="#111"/>
<!-- front face -->
<rect x="926.7" y="492.6" width="58.4" height="148" fill="#d4d4d4" stroke="#050505" stroke-width="2.6"/>
<rect x="932" y="500.9" width="49" height="135.5" fill="#fff" stroke="#9a9a9a" stroke-width="1"/>
<!-- toggle -->
<rect x="936" y="528.5" width="42" height="67" fill="#e6e6e6" stroke="#555" stroke-width="2.4"/>
<rect x="944" y="536" width="30" height="34" fill="#f5f5f5" stroke="#888" stroke-width="1"/>
<path d="M937,535 L945,535 L940,570 L934,572 Z" fill="#111"/>
<path d="M946,537 L972,537 L964,560 L951,567 Z" fill="none" stroke="#111" stroke-width="4"/>
<path d="M931,585 L958,560 L970,572 L952,596 Z" fill="#111"/>
<rect x="924.6" y="584.3" width="23" height="18.7" fill="#fff" stroke="#050505" stroke-width="2.6"/>
<path d="M947.6,590 L960,578 V592 L950,602 Z" fill="#d8d8d8" stroke="#050505" stroke-width="2"/>
<!-- side terminals -->
<path d="M995.5,491 L1018.5,476 V509 L995.5,524 Z" fill="#0e0e0e"/>
<path d="M1000,498 L1013,490 V505 L1000,513 Z" fill="#777"/>
<path d="M995.5,590 L1018.5,575 V603 L995.5,618 Z" fill="#0e0e0e"/>
<path d="M1000,597 L1013,589 V600 L1000,608 Z" fill="#666"/>
<!-- bottom ear -->
<path d="M943.4,641 H974.7 V668 L982,670 Q993,672 993.4,680 Q993,690 982,691 L968,689 L960,685 L952,689 L938,691 Q928,690 927.8,680 Q928,672 937,670 L943.4,668 Z" fill="#fff" stroke="#050505" stroke-width="3.4"/>
<rect x="957" y="647.5" width="6" height="6" fill="#111"/>
<circle cx="960" cy="665.6" r="5.5" fill="#fff" stroke="#050505" stroke-width="2.2"/>
<path d="M957.5,667.5 L962.5,663.5" stroke="#050505" stroke-width="1.4"/>
<ellipse cx="942" cy="681" rx="8" ry="6" fill="#111"/>
<ellipse cx="978" cy="681" rx="8" ry="6" fill="#111"/>
<ellipse cx="942" cy="681" rx="4" ry="2.6" fill="#fff"/>
<ellipse cx="978" cy="681" rx="4" ry="2.6" fill="#fff"/>
</g>


<!-- ============ OCTAGON BOX & BULBS ============ -->
<g id="octbox" stroke-linejoin="round">
<!-- underside -->
<path d="M1193.9,625.3 L1202,636 L1384.5,606 V594.4 L1277.3,596.7 L1239.1,603.9 Z" fill="#e4e4e4" stroke="#050505" stroke-width="2.6"/>
<path d="M1205,632 L1239.1,606 L1277.3,599 L1300,598 V626 L1215,638 Z" fill="#f0f0f0"/>
<path d="M1300,598 L1380,596 L1382,604 L1300,626 Z" fill="#d0d0d0"/>
<!-- left faces -->
<path d="M1193.9,567 L1239.1,546.7 V603.9 L1193.9,625.3 Z" fill="#c9c9c9" stroke="#050505" stroke-width="2.6"/>
<path d="M1239.1,546.7 L1277.3,536 V596.7 L1239.1,603.9 Z" fill="#dadada" stroke="#050505" stroke-width="2.6"/>
<!-- front face -->
<rect x="1277.3" y="534.8" width="107.2" height="59.6" fill="#e9e9e9" stroke="#050505" stroke-width="2.6"/>
<path d="M1384.5,536 L1389.2,541 V602 L1384.5,606" fill="#ddd" stroke="#050505" stroke-width="2"/>
<ellipse cx="1326" cy="563.4" rx="13.5" ry="16" fill="#e9e9e9" stroke="#050505" stroke-width="2.8"/>
<!-- hanging wires -->
<g fill="none" stroke-linecap="round">
<path d="M1284,600 C1290,620 1270,630 1250,634 C1238,637 1234,642 1234,650" stroke="#050505" stroke-width="9"/>
<path d="M1284,600 C1290,620 1270,630 1250,634 C1238,637 1234,642 1234,650" stroke="#fff" stroke-width="5"/>
<path d="M1234,650 L1239,680" stroke="#6a3a28" stroke-width="6"/>
<path d="M1234,650 L1239,680" stroke="#cfa08a" stroke-width="3.6"/>
<path d="M1315,600 C1330,612 1326,626 1300,635 C1280,642 1276,655 1275,670" stroke="#7a4430" stroke-width="7"/>
<path d="M1315,600 C1330,612 1326,626 1300,635 C1280,642 1276,655 1275,670" stroke="#d4a490" stroke-width="4.4"/>
<path d="M1352,600 C1365,612 1362,630 1345,642 C1338,647 1332,650 1326,652" stroke="#050505" stroke-width="7"/>
<path d="M1326,652 L1306,672" stroke="#6a3a28" stroke-width="5.5"/>
<path d="M1326,652 L1306,672" stroke="#cfa08a" stroke-width="3"/>
</g>
</g>
<use href="#bulb" transform="translate(1179.5,740.5) rotate(-12)"/>
<use href="#bulb" transform="translate(1338.5,743) rotate(-22.5)"/>

<!-- ============ MICROWAVE ============ -->
<g id="microwave">
<path d="M799,985.8 H1230 L1281.8,1000.5 V1004 H764 V1002.5 Z" fill="#727272"/>
<path d="M799,985.8 H1230" stroke="#626262" stroke-width="1.5"/>
<rect x="764" y="1003.5" width="517.8" height="279" fill="url(#mwDoor)"/>
<rect x="765" y="1003.4" width="428" height="8" fill="#f0eeee"/>
<rect x="762.6" y="1003.5" width="2.6" height="279" fill="#7a7a7a"/>
<rect x="765.2" y="1011" width="2.2" height="271" fill="#f2f2f2"/>
<rect x="1191.5" y="1004" width="90.3" height="278.5" fill="#d3d3d5"/>
<rect x="1186.5" y="1013" width="5.5" height="257" fill="#78787e"/>
<rect x="1192" y="1013" width="4" height="257" fill="#eeeeee"/>
<rect x="1183" y="1013" width="3.5" height="257" fill="#e8dede"/>
<rect x="1203.7" y="1033.7" width="65.3" height="25.8" rx="4" fill="#8e8e90" stroke="#7a7a7c" stroke-width="1"/>
<rect x="1208" y="1044" width="30" height="3" fill="#6e6e70"/>
<rect x="815.6" y="1046.6" width="320.6" height="180.6" rx="2" fill="url(#mwWin)"/>
<path d="M815.6,1046.6 L840,1061 H1110 L1136.2,1046.6 Z" fill="#7a7a80"/>
<path d="M815.6,1046.6 L840,1061 V1215 L815.6,1227.2 Z" fill="#6a6a70"/>
<rect x="764" y="1280" width="517.8" height="3" fill="#c8c6c6"/>
</g>


<!-- ============ POWER VENT WATER HEATER ============ -->
<g id="pvheater">
<!-- cord -->
<path d="M222,1184 C252,1185 276,1180 300,1170" fill="none" stroke="#151515" stroke-width="8.5" stroke-linecap="round"/>
<g transform="translate(323,1162) rotate(-27)">
<path d="M-28,-8 C-22,-10 -14,-12 -6,-14 L22,-16 Q28,-16 28,-10 V10 Q28,16 22,16 L-6,14 C-14,12 -22,10 -28,8 Z" fill="#1c1c1c"/>
<path d="M-26,-7 L-24,7 M-20,-9 L-18,9 M-14,-10.5 L-12,10.5" stroke="#444" stroke-width="1.6"/>
<rect x="0" y="-6" width="14" height="5" fill="#3c3c3c"/>
<rect x="27" y="-12" width="24" height="5.5" fill="#c9a640"/>
<rect x="27" y="6" width="24" height="5.5" fill="#c9a640"/>
<rect x="27" y="-2.5" width="18" height="5" rx="2" fill="#b89434"/>
<rect x="27" y="-12" width="24" height="2" fill="#e8d080"/>
<rect x="27" y="6" width="24" height="2" fill="#e8d080"/>
</g>
<!-- body -->
<path d="M101.6,955.5 Q163,951 224.9,955.5 V1263 Q163,1271 101.6,1263 Z" fill="url(#pvBody)"/>
<path d="M101.6,955.5 Q163,950 224.9,955.5 L224.9,958.5 Q163,954 101.6,958.5 Z" fill="#1a1a1a" stroke="#1a1a1a" stroke-width="2"/>
<path d="M101.6,1261 Q163,1268 224.9,1261 V1264 Q163,1272 101.6,1264 Z" fill="#1a1a1a" stroke="#1a1a1a" stroke-width="2"/>
<!-- blower -->
<path d="M136,905 Q137,893 148,893 H186 Q195.5,894 195.5,904 V952.5 H136 Z" fill="#262626"/>
<path d="M144,918 A23,23 0 1 1 166,941 L150,941 Q144,935 144,918 Z" fill="#1c1c1c" stroke="#0a0a0a" stroke-width="2"/>
<circle cx="167" cy="918.5" r="14" fill="#2c2a28"/>
<circle cx="167" cy="918.5" r="8" fill="#4a4440"/>
<circle cx="167" cy="918.5" r="3.5" fill="#7a706a"/>
<rect x="156" y="913" width="4" height="3" fill="#777"/>
<rect x="175" y="913" width="4" height="3" fill="#777"/>
<rect x="136" y="937" width="59.5" height="15.5" fill="#1e1e1e"/>
<path d="M146,940 H190 L186,950 H150 Z" fill="#2e2e2e"/>
<rect x="135.2" y="882.2" width="17.4" height="16.8" fill="#8a8a8a"/>
<rect x="137" y="883" width="4" height="15" fill="#d4d4d4"/>
<rect x="145" y="883" width="3" height="15" fill="#c0c0c0"/>
<rect x="135.2" y="882.2" width="17.4" height="2.5" fill="#5a5a5a"/>
<!-- controls -->
<rect x="149.5" y="961.5" width="27.5" height="21.5" rx="3" fill="#e6e6e6" stroke="#9a9a9a" stroke-width="1.2"/>
<rect x="154" y="965.5" width="18.5" height="10" fill="#c8d4c4" stroke="#7a857a" stroke-width="1"/>
<circle cx="163.2" cy="1002.7" r="8.2" fill="#d8283c"/>
<circle cx="163.2" cy="1002.7" r="6" fill="none" stroke="#f6c0c8" stroke-width="1"/>
<path d="M220,980 H232 Q236,982 236,988 H231 V992 H224 V986 H220 Z" fill="#b39860"/>
<!-- bottom -->
<rect x="102.2" y="1216.4" width="19.8" height="19.8" fill="#b2b2b2"/>
<rect x="203" y="1216.4" width="21.3" height="19.8" fill="#b2b2b2"/>
<rect x="135.8" y="1224" width="54.9" height="30.5" fill="#131313"/>
<rect x="158.7" y="1215" width="9" height="47" fill="#4a4a4a"/>
<rect x="148" y="1192" width="30.5" height="26" rx="2" fill="#eadcdc" stroke="#a8a0a0" stroke-width="1"/>
<circle cx="168" cy="1201" r="2.2" fill="#c02030"/>
<circle cx="172" cy="1208" r="2.5" fill="#c02030"/>
<rect x="150" y="1210" width="8" height="8" fill="#777"/>
<path d="M194,1212 L204,1214 L203,1224 L195,1222 Z" fill="#a89060"/>
</g>

<!-- ============ TEXT LABELS ============ -->
<g id="labels">
<text x="27.7" y="112.5" font-size="47.8" textLength="282.3" lengthAdjust="spacing">Breaker Box</text>
<text x="381" y="323.8" font-size="47.8" textLength="359.3" lengthAdjust="spacing">240 volt circuits</text>
<text x="1058.5" y="213.2" font-size="40" textLength="151.5" lengthAdjust="spacing">6-2 wire</text>
<text x="1058.6" y="335.5" font-size="40" textLength="174.8" lengthAdjust="spacing">10-2 wire</text>
<text x="1656.2" y="136.6" font-size="47.8" textLength="164.8" lengthAdjust="spacing">60 amp</text>
<text x="1655.2" y="193.1" font-size="47.8" textLength="209.4" lengthAdjust="spacing">subpanel</text>
<text x="362.6" y="457.5" font-size="47.8" textLength="332.5" lengthAdjust="spacing">120 volt circuit</text>
<text x="462" y="519" font-size="38" textLength="172" lengthAdjust="spacing">12-2 wire</text>
<text x="748.7" y="533.6" font-size="47.8" textLength="154" lengthAdjust="spacing">Switch</text>
<text x="1141.9" y="819.6" font-size="47.8" textLength="286.2" lengthAdjust="spacing">Octagon box</text>
<text x="1191.6" y="878.7" font-size="47.8" textLength="201.5" lengthAdjust="spacing">for lights</text>
<text x="517.1" y="934.2" font-size="47.8" textLength="343.5" lengthAdjust="spacing">120 volt outlets</text>
<text x="1531" y="730.5" font-size="47.8" textLength="178.5" lengthAdjust="spacing">240 volt</text>
<text x="1531" y="786.3" font-size="47.8" textLength="173" lengthAdjust="spacing">electric</text>
<text x="1532" y="842.4" font-size="47.8" textLength="297" lengthAdjust="spacing">water Heater</text>
<text x="16.4" y="1063" font-size="47.8" textLength="256.9" lengthAdjust="spacing">Power vent</text>
<text x="16.9" y="1118.4" font-size="47.8" textLength="290.9" lengthAdjust="spacing">water heater</text>
<text x="344.6" y="1260.3" font-size="47.8" textLength="374.75" lengthAdjust="spacing">Dedicated outlet</text>
<text x="360.8" y="1301.4" font-size="47.8" textLength="322.9" lengthAdjust="spacing">for microwave</text>
<text x="1161.8" y="1118.5" font-size="47.8" textLength="246.8" lengthAdjust="spacing">Microwave</text>
<text x="1507.4" y="1317.2" font-size="47.8" textLength="349.8" lengthAdjust="spacing">&#169; Gene Haynes</text>
</g>
</svg>
</body></html>
